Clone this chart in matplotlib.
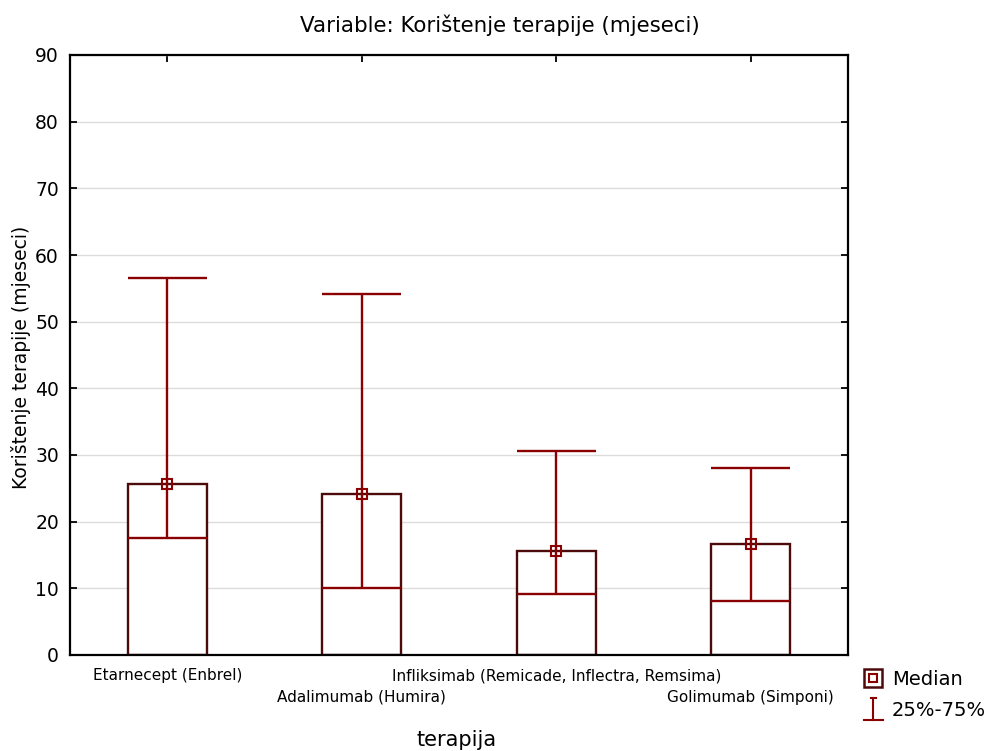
import matplotlib
matplotlib.use("Agg")
import matplotlib.pyplot as plt
from matplotlib.lines import Line2D
from matplotlib.legend_handler import HandlerBase

plt.rcParams['font.family'] = ['DejaVu Sans']

categories = ["Etarnecept (Enbrel)", "Adalimumab (Humira)",
              "Infliksimab (Remicade, Inflectra, Remsima)", "Golimumab (Simponi)"]
medians = [25.6, 24.1, 15.6, 16.6]
q25 = [17.6, 10.0, 9.1, 8.1]
q75 = [56.6, 54.1, 30.6, 28.1]
yticks = [0, 10, 20, 30, 40, 50, 60, 70, 80, 90]

BOX = '#4d0a0a'
RED = '#8b0000'

fig = plt.figure(figsize=(9.94, 7.51), dpi=100)
ax = fig.add_axes([70/994, 96/751, 778/994, 600/751])

x = list(range(len(categories)))
w = 0.406
ax.bar(x, medians, width=w, color='white', edgecolor=BOX, linewidth=1.7, zorder=2)
ax.vlines(x, q25, q75, color=RED, linewidth=1.7, zorder=3)
ax.hlines(q75, [i - w/2 for i in x], [i + w/2 for i in x], color=RED, linewidth=1.7, zorder=3)
ax.hlines(q25, [i - w/2 for i in x], [i + w/2 for i in x], color=RED, linewidth=1.7, zorder=3)
ax.plot(x, medians, linestyle='none', marker='s', markersize=6.5, markerfacecolor='none',
        markeredgecolor=RED, markeredgewidth=1.5, zorder=4)

ax.set_xlim(-0.5, 3.5)
ax.set_ylim(0, 90)
ax.set_yticks(yticks)
ax.set_yticklabels([str(v) for v in yticks], fontsize=13.5)
ax.yaxis.grid(True, color='#dcdcdc', linewidth=1.0, zorder=0)
ax.set_axisbelow(True)
ax.set_xticks(x)
ax.set_xticklabels([])
for i, lab in enumerate(categories):
    ax.annotate(lab, xy=(i, 0), xycoords=('data', 'axes fraction'),
                xytext=(0, -15 if i % 2 == 0 else -30.5), textcoords='offset points',
                ha='center', va='center', fontsize=11)
ax.tick_params(direction='in', length=5, width=1.3, top=True, right=True, pad=8)
ax.tick_params(axis='x', pad=2)
for s in ax.spines.values():
    s.set_linewidth(1.6)

fig.text(500/994, 1 - 25/751, "Variable: Korištenje terapije (mjeseci)", ha='center', va='center', fontsize=15.4)
fig.text(457/994, 1 - 740/751, "terapija", ha='center', va='center', fontsize=15)
fig.text(21/994, 1 - 357/751, "Korištenje terapije (mjeseci)", ha='center', va='center',
         rotation=90, fontsize=13.5)


class MedianHandler(HandlerBase):
    def create_artists(self, legend, orig, xd, yd, width, height, fontsize, trans):
        cx, cy = width / 2 - xd, height / 2 - yd
        a = Line2D([cx], [cy], marker='s', markersize=13, markerfacecolor='white',
                   markeredgecolor=BOX, markeredgewidth=1.8, transform=trans)
        b = Line2D([cx], [cy], marker='s', markersize=6, markerfacecolor='none',
                   markeredgecolor=RED, markeredgewidth=1.5, transform=trans)
        return [a, b]


class RangeHandler(HandlerBase):
    def create_artists(self, legend, orig, xd, yd, width, height, fontsize, trans):
        cx = width / 2 - xd
        y0, y1 = -yd - 3, height - yd + 3
        v = Line2D([cx, cx], [y0, y1], color=RED, linewidth=1.5, transform=trans)
        bcap = Line2D([cx - 7, cx + 7], [y0, y0], color=RED, linewidth=1.5, transform=trans)
        tcap = Line2D([cx - 2, cx + 2], [y1, y1], color=RED, linewidth=1.5, transform=trans)
        return [v, bcap, tcap]


h1 = Line2D([], [])
h2 = Line2D([], [])
fig.legend([h1, h2], ["Median", "25%-75%"], handler_map={h1: MedianHandler(), h2: RangeHandler()},
           loc='center left', bbox_to_anchor=(854/994, 1 - 695/751), frameon=False,
           fontsize=14, handlelength=1.0, handletextpad=0.45, labelspacing=0.6, borderpad=0)

fig.savefig("out.png", dpi=100)
